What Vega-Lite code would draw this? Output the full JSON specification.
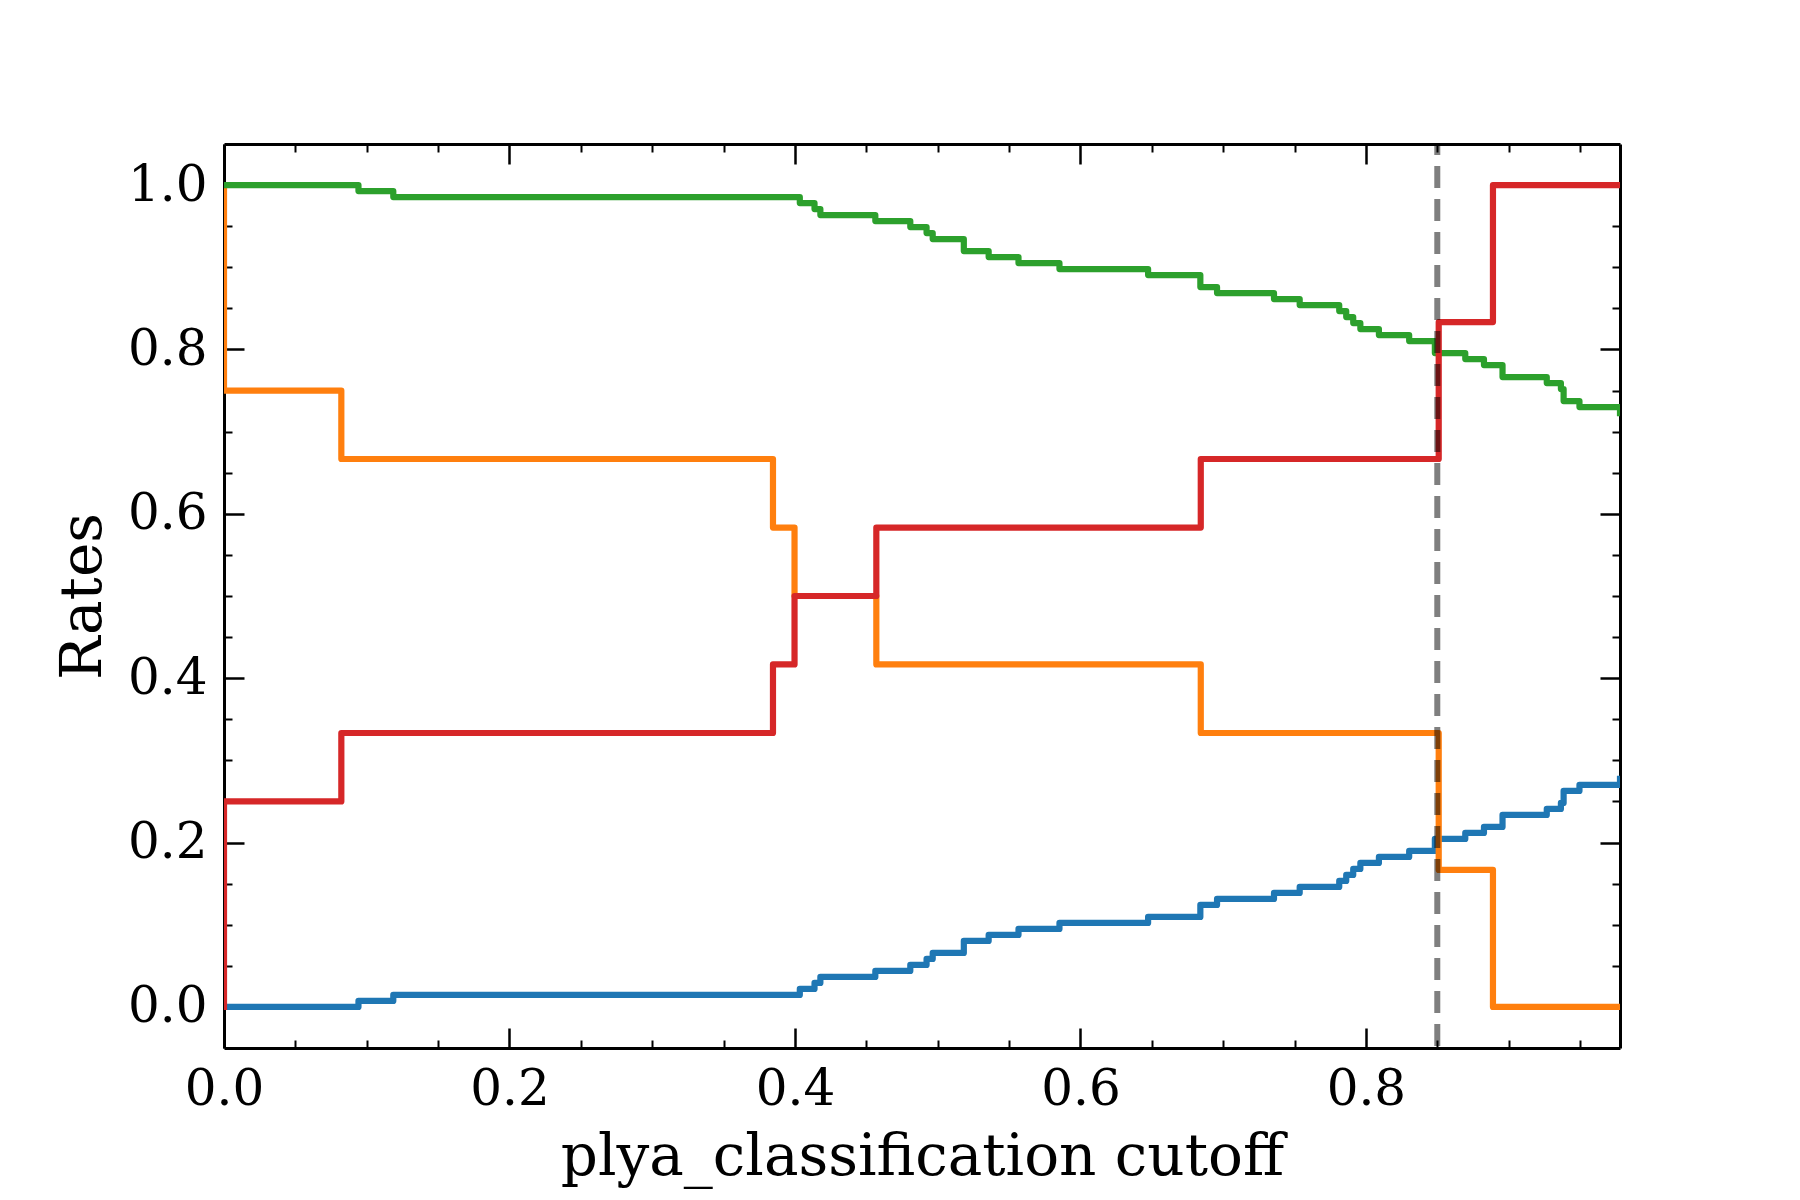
{
  "$schema": "https://vega.github.io/schema/vega-lite/v6.json",
  "width": 1396,
  "height": 904,
  "autosize": {"type": "none"},
  "padding": {"left": 224, "top": 144, "right": 180, "bottom": 152},
  "background": "white",
  "config": {
    "view": {"stroke": null},
    "axis": {
      "grid": false,
      "labelFont": "DejaVu Serif",
      "titleFont": "DejaVu Serif",
      "labelFontSize": 50,
      "titleFontSize": 58,
      "labelColor": "black",
      "titleColor": "black",
      "tickColor": "black",
      "domainColor": "black",
      "titleFontWeight": "normal",
      "zindex": 1,
      "labelFlush": false,
      "labelOverlap": false
    }
  },
  "datasets": {
    "fnr": [
      {"cutoff": 0.0, "rate": 0.0, "series": "FNR"},
      {"cutoff": 0.0942, "rate": 0.0073, "series": "FNR"},
      {"cutoff": 0.1186, "rate": 0.0146, "series": "FNR"},
      {"cutoff": 0.4034, "rate": 0.0219, "series": "FNR"},
      {"cutoff": 0.4137, "rate": 0.0292, "series": "FNR"},
      {"cutoff": 0.4178, "rate": 0.0365, "series": "FNR"},
      {"cutoff": 0.4563, "rate": 0.0438, "series": "FNR"},
      {"cutoff": 0.4808, "rate": 0.0511, "series": "FNR"},
      {"cutoff": 0.4922, "rate": 0.0584, "series": "FNR"},
      {"cutoff": 0.4965, "rate": 0.0657, "series": "FNR"},
      {"cutoff": 0.5183, "rate": 0.0803, "series": "FNR"},
      {"cutoff": 0.5357, "rate": 0.0876, "series": "FNR"},
      {"cutoff": 0.5566, "rate": 0.0949, "series": "FNR"},
      {"cutoff": 0.5853, "rate": 0.1022, "series": "FNR"},
      {"cutoff": 0.6474, "rate": 0.1095, "series": "FNR"},
      {"cutoff": 0.684, "rate": 0.1241, "series": "FNR"},
      {"cutoff": 0.6957, "rate": 0.1314, "series": "FNR"},
      {"cutoff": 0.7356, "rate": 0.1387, "series": "FNR"},
      {"cutoff": 0.7536, "rate": 0.146, "series": "FNR"},
      {"cutoff": 0.7813, "rate": 0.1533, "series": "FNR"},
      {"cutoff": 0.7862, "rate": 0.1606, "series": "FNR"},
      {"cutoff": 0.7911, "rate": 0.1679, "series": "FNR"},
      {"cutoff": 0.7961, "rate": 0.1752, "series": "FNR"},
      {"cutoff": 0.8091, "rate": 0.1825, "series": "FNR"},
      {"cutoff": 0.8303, "rate": 0.1898, "series": "FNR"},
      {"cutoff": 0.8483, "rate": 0.2044, "series": "FNR"},
      {"cutoff": 0.8696, "rate": 0.2117, "series": "FNR"},
      {"cutoff": 0.8827, "rate": 0.219, "series": "FNR"},
      {"cutoff": 0.8957, "rate": 0.2336, "series": "FNR"},
      {"cutoff": 0.9267, "rate": 0.2409, "series": "FNR"},
      {"cutoff": 0.9366, "rate": 0.2482, "series": "FNR"},
      {"cutoff": 0.9385, "rate": 0.2628, "series": "FNR"},
      {"cutoff": 0.9496, "rate": 0.2701, "series": "FNR"},
      {"cutoff": 0.978, "rate": 0.2774, "series": "FNR"}
    ],
    "fdr": [
      {"cutoff": 0.0, "rate": 1.0, "series": "FDR"},
      {"cutoff": 0.0, "rate": 0.75, "series": "FDR"},
      {"cutoff": 0.0822, "rate": 0.6667, "series": "FDR"},
      {"cutoff": 0.3846, "rate": 0.5833, "series": "FDR"},
      {"cutoff": 0.3997, "rate": 0.5, "series": "FDR"},
      {"cutoff": 0.457, "rate": 0.4167, "series": "FDR"},
      {"cutoff": 0.6843, "rate": 0.3333, "series": "FDR"},
      {"cutoff": 0.851, "rate": 0.1667, "series": "FDR"},
      {"cutoff": 0.889, "rate": 0.0, "series": "FDR"},
      {"cutoff": 0.978, "rate": 0.0, "series": "FDR"}
    ],
    "tpr": [
      {"cutoff": 0.0, "rate": 1.0, "series": "TPR"},
      {"cutoff": 0.0942, "rate": 0.9927, "series": "TPR"},
      {"cutoff": 0.1186, "rate": 0.9854, "series": "TPR"},
      {"cutoff": 0.4034, "rate": 0.9781, "series": "TPR"},
      {"cutoff": 0.4137, "rate": 0.9708, "series": "TPR"},
      {"cutoff": 0.4178, "rate": 0.9635, "series": "TPR"},
      {"cutoff": 0.4563, "rate": 0.9562, "series": "TPR"},
      {"cutoff": 0.4808, "rate": 0.9489, "series": "TPR"},
      {"cutoff": 0.4922, "rate": 0.9416, "series": "TPR"},
      {"cutoff": 0.4965, "rate": 0.9343, "series": "TPR"},
      {"cutoff": 0.5183, "rate": 0.9197, "series": "TPR"},
      {"cutoff": 0.5357, "rate": 0.9124, "series": "TPR"},
      {"cutoff": 0.5566, "rate": 0.9051, "series": "TPR"},
      {"cutoff": 0.5853, "rate": 0.8978, "series": "TPR"},
      {"cutoff": 0.6474, "rate": 0.8905, "series": "TPR"},
      {"cutoff": 0.684, "rate": 0.8759, "series": "TPR"},
      {"cutoff": 0.6957, "rate": 0.8686, "series": "TPR"},
      {"cutoff": 0.7356, "rate": 0.8613, "series": "TPR"},
      {"cutoff": 0.7536, "rate": 0.854, "series": "TPR"},
      {"cutoff": 0.7813, "rate": 0.8467, "series": "TPR"},
      {"cutoff": 0.7862, "rate": 0.8394, "series": "TPR"},
      {"cutoff": 0.7911, "rate": 0.8321, "series": "TPR"},
      {"cutoff": 0.7961, "rate": 0.8248, "series": "TPR"},
      {"cutoff": 0.8091, "rate": 0.8175, "series": "TPR"},
      {"cutoff": 0.8303, "rate": 0.8102, "series": "TPR"},
      {"cutoff": 0.8483, "rate": 0.7956, "series": "TPR"},
      {"cutoff": 0.8696, "rate": 0.7883, "series": "TPR"},
      {"cutoff": 0.8827, "rate": 0.781, "series": "TPR"},
      {"cutoff": 0.8957, "rate": 0.7664, "series": "TPR"},
      {"cutoff": 0.9267, "rate": 0.7591, "series": "TPR"},
      {"cutoff": 0.9366, "rate": 0.7518, "series": "TPR"},
      {"cutoff": 0.9385, "rate": 0.7372, "series": "TPR"},
      {"cutoff": 0.9496, "rate": 0.7299, "series": "TPR"},
      {"cutoff": 0.978, "rate": 0.7226, "series": "TPR"}
    ],
    "ppv": [
      {"cutoff": 0.0, "rate": 0.0, "series": "PPV"},
      {"cutoff": 0.0, "rate": 0.25, "series": "PPV"},
      {"cutoff": 0.0822, "rate": 0.3333, "series": "PPV"},
      {"cutoff": 0.3846, "rate": 0.4167, "series": "PPV"},
      {"cutoff": 0.3997, "rate": 0.5, "series": "PPV"},
      {"cutoff": 0.457, "rate": 0.5833, "series": "PPV"},
      {"cutoff": 0.6843, "rate": 0.6667, "series": "PPV"},
      {"cutoff": 0.851, "rate": 0.8333, "series": "PPV"},
      {"cutoff": 0.889, "rate": 1.0, "series": "PPV"},
      {"cutoff": 0.978, "rate": 1.0, "series": "PPV"}
    ],
    "marker": [
      {"cutoff": 0.85}
    ]
  },
  "resolve": {"axis": {"x": "independent", "y": "independent"}},
  "layer": [
    {
      "data": {"name": "tpr"},
      "mark": {"type": "point", "opacity": 0},
      "encoding": {
        "x": {"field": "cutoff", "type": "quantitative", "scale": {"domain": [0, 0.978], "nice": false, "zero": false},
          "axis": {"orient": "bottom", "values": [0, 0.2, 0.4, 0.6, 0.8], "format": ".1f", "tickSize": -20, "tickWidth": 2.5, "labelPadding": 36, "domain": true, "domainWidth": 3, "title": "plya_classification cutoff", "titlePadding": 14}},
        "y": {"field": "rate", "type": "quantitative", "scale": {"domain": [-0.05, 1.05], "nice": false, "zero": false},
          "axis": {"orient": "left", "values": [0, 0.2, 0.4, 0.6, 0.8, 1.0], "format": ".1f", "tickSize": -20, "tickWidth": 2.5, "labelPadding": 37, "domain": true, "domainWidth": 3, "title": "Rates", "titlePadding": 15}}
      }
    },
    {
      "data": {"name": "tpr"},
      "mark": {"type": "point", "opacity": 0},
      "encoding": {
        "x": {"field": "cutoff", "type": "quantitative", "scale": {"domain": [0, 0.978], "nice": false, "zero": false},
          "axis": {"orient": "bottom", "values": [0.05, 0.1, 0.15, 0.25, 0.3, 0.35, 0.45, 0.5, 0.55, 0.65, 0.7, 0.75, 0.85, 0.9, 0.95], "tickSize": -8, "tickWidth": 2, "labels": false, "domain": false, "title": null}},
        "y": {"field": "rate", "type": "quantitative", "scale": {"domain": [-0.05, 1.05], "nice": false, "zero": false},
          "axis": {"orient": "left", "values": [0.05, 0.1, 0.15, 0.25, 0.3, 0.35, 0.45, 0.5, 0.55, 0.65, 0.7, 0.75, 0.85, 0.9, 0.95], "tickSize": -8, "tickWidth": 2, "labels": false, "domain": false, "title": null}}
      }
    },
    {
      "data": {"name": "tpr"},
      "mark": {"type": "point", "opacity": 0},
      "encoding": {
        "x": {"field": "cutoff", "type": "quantitative", "scale": {"domain": [0, 0.978], "nice": false, "zero": false},
          "axis": {"orient": "top", "values": [0, 0.2, 0.4, 0.6, 0.8], "tickSize": -20, "tickWidth": 2.5, "labels": false, "domain": true, "domainWidth": 3, "title": null}},
        "y": {"field": "rate", "type": "quantitative", "scale": {"domain": [-0.05, 1.05], "nice": false, "zero": false},
          "axis": {"orient": "right", "values": [0, 0.2, 0.4, 0.6, 0.8, 1.0], "tickSize": -20, "tickWidth": 2.5, "labels": false, "domain": true, "domainWidth": 3, "title": null}}
      }
    },
    {
      "data": {"name": "tpr"},
      "mark": {"type": "point", "opacity": 0},
      "encoding": {
        "x": {"field": "cutoff", "type": "quantitative", "scale": {"domain": [0, 0.978], "nice": false, "zero": false},
          "axis": {"orient": "top", "values": [0.05, 0.1, 0.15, 0.25, 0.3, 0.35, 0.45, 0.5, 0.55, 0.65, 0.7, 0.75, 0.85, 0.9, 0.95], "tickSize": -8, "tickWidth": 2, "labels": false, "domain": false, "title": null}},
        "y": {"field": "rate", "type": "quantitative", "scale": {"domain": [-0.05, 1.05], "nice": false, "zero": false},
          "axis": {"orient": "right", "values": [0.05, 0.1, 0.15, 0.25, 0.3, 0.35, 0.45, 0.5, 0.55, 0.65, 0.7, 0.75, 0.85, 0.9, 0.95], "tickSize": -8, "tickWidth": 2, "labels": false, "domain": false, "title": null}}
      }
    },
    {
      "data": {"name": "fnr"},
      "mark": {"type": "line", "interpolate": "step-after", "strokeWidth": 6.2, "strokeJoin": "round", "strokeCap": "square", "clip": true},
      "encoding": {
        "x": {"field": "cutoff", "type": "quantitative", "scale": {"domain": [0, 0.978], "nice": false, "zero": false}, "axis": null},
        "y": {"field": "rate", "type": "quantitative", "scale": {"domain": [-0.05, 1.05], "nice": false, "zero": false}, "axis": null},
        "color": {"field": "series", "type": "nominal", "scale": {"domain": ["FNR", "FDR", "TPR", "PPV"], "range": ["#1f77b4", "#ff7f0e", "#2ca02c", "#d62728"]}, "legend": null}
      }
    },
    {
      "data": {"name": "fdr"},
      "mark": {"type": "line", "interpolate": "step-after", "strokeWidth": 6.2, "strokeJoin": "round", "strokeCap": "square", "clip": true},
      "encoding": {
        "x": {"field": "cutoff", "type": "quantitative", "scale": {"domain": [0, 0.978], "nice": false, "zero": false}, "axis": null},
        "y": {"field": "rate", "type": "quantitative", "scale": {"domain": [-0.05, 1.05], "nice": false, "zero": false}, "axis": null},
        "color": {"field": "series", "type": "nominal", "scale": {"domain": ["FNR", "FDR", "TPR", "PPV"], "range": ["#1f77b4", "#ff7f0e", "#2ca02c", "#d62728"]}, "legend": null}
      }
    },
    {
      "data": {"name": "tpr"},
      "mark": {"type": "line", "interpolate": "step-after", "strokeWidth": 6.2, "strokeJoin": "round", "strokeCap": "square", "clip": true},
      "encoding": {
        "x": {"field": "cutoff", "type": "quantitative", "scale": {"domain": [0, 0.978], "nice": false, "zero": false}, "axis": null},
        "y": {"field": "rate", "type": "quantitative", "scale": {"domain": [-0.05, 1.05], "nice": false, "zero": false}, "axis": null},
        "color": {"field": "series", "type": "nominal", "scale": {"domain": ["FNR", "FDR", "TPR", "PPV"], "range": ["#1f77b4", "#ff7f0e", "#2ca02c", "#d62728"]}, "legend": null}
      }
    },
    {
      "data": {"name": "ppv"},
      "mark": {"type": "line", "interpolate": "step-after", "strokeWidth": 6.2, "strokeJoin": "round", "strokeCap": "square", "clip": true},
      "encoding": {
        "x": {"field": "cutoff", "type": "quantitative", "scale": {"domain": [0, 0.978], "nice": false, "zero": false}, "axis": null},
        "y": {"field": "rate", "type": "quantitative", "scale": {"domain": [-0.05, 1.05], "nice": false, "zero": false}, "axis": null},
        "color": {"field": "series", "type": "nominal", "scale": {"domain": ["FNR", "FDR", "TPR", "PPV"], "range": ["#1f77b4", "#ff7f0e", "#2ca02c", "#d62728"]}, "legend": null}
      }
    },
    {
      "data": {"name": "marker"},
      "mark": {"type": "rule", "color": "black", "opacity": 0.5, "strokeWidth": 6, "strokeDash": [22, 11], "strokeDashOffset": 11},
      "encoding": {
        "x": {"field": "cutoff", "type": "quantitative", "scale": {"domain": [0, 0.978], "nice": false, "zero": false}, "axis": null}
      }
    }
  ]
}
